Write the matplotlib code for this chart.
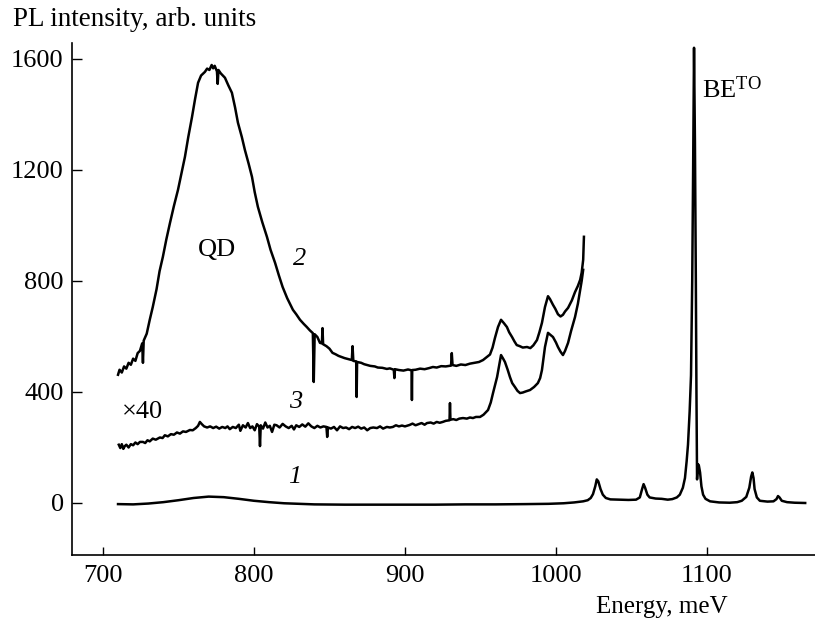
import matplotlib
matplotlib.use("Agg")
import matplotlib.pyplot as plt

plt.rcParams['font.family'] = ['Liberation Serif', 'DejaVu Serif']
plt.rcParams['mathtext.fontset'] = 'custom'
plt.rcParams['mathtext.rm'] = 'Liberation Serif'
plt.rcParams['mathtext.it'] = 'Liberation Serif:italic'

# curve 1: PL spectrum (as measured)
e1 = [710, 720, 730, 740, 750, 760, 770, 780, 790, 800, 810, 820, 830, 840, 860,
      880, 900, 920, 940, 960, 980, 995, 1005, 1012, 1018, 1021, 1023, 1024.5,
      1026, 1027, 1028, 1029.5, 1031, 1033, 1036, 1042, 1048, 1053, 1055.5, 1057,
      1058, 1059, 1060.5, 1062, 1066, 1070, 1074, 1077, 1080, 1082, 1084, 1085.4,
      1086.5, 1087.4, 1088.5, 1089.4, 1090.2, 1090.8, 1091.4, 1092, 1092.6, 1093,
      1093.4, 1094, 1094.6, 1095.4, 1096.3, 1097.4, 1099, 1102, 1108, 1115, 1120,
      1123, 1126, 1128, 1129.2, 1130, 1130.8, 1131.5, 1133, 1135, 1140, 1144, 1146,
      1147, 1148, 1149.5, 1153, 1158, 1165]
i1 = [-4, -5, -2, 3, 10, 18, 23, 21, 15, 8, 3, -1, -3, -5, -6,
      -6, -6, -6, -5, -5, -4, -3, -1, 2, 6, 10, 18, 32,
      60, 85, 78, 50, 30, 18, 13, 12, 11, 12, 20, 50,
      68, 55, 30, 20, 16, 15, 12, 14, 20, 30, 55, 90,
      150, 210, 330, 460, 800, 1200, 1640, 1300, 800, 400,
      85, 140, 135, 110, 60, 30, 15, 6, 2, 1, 3,
      8, 22, 55, 95, 110, 90, 50, 20, 8, 5, 6, 14,
      25, 20, 8, 3, 1, 0]

# curve 2: QD spectrum
e2 = [710, 711, 712.5, 714, 715.5, 717, 718.5, 720, 721.5, 723, 724.5, 726, 726.5,
      727, 729, 731, 733, 735.5, 737.5, 739.7, 742, 744.4, 747, 749.7, 752, 754.3,
      756.5, 759, 761, 763, 765, 767.5, 769, 770.5, 772, 773, 774, 775.5, 776,
      776.5, 778, 780.8, 783, 785.4, 787.5, 789.4, 792, 794, 796.5, 798.7, 800.5,
      802.6, 805.5, 808.6, 811, 814, 816.5, 819, 822, 825.8, 828, 830.5, 833, 835,
      837, 839, 839.6, 840.2, 842, 843.7, 845, 845.4, 845.8, 848, 850, 852, 854,
      856, 858, 860, 862, 864.8, 865.3, 865.8, 867.7, 868, 868.3, 871, 873, 875,
      877, 880, 882, 885, 888, 890, 892.6, 893, 893.4, 896, 899, 902, 904.4, 904.6,
      904.8, 907, 910, 913, 916, 918.5, 921, 924, 927, 930.5, 931, 931.5, 934, 937,
      940, 943, 946, 949, 951.7, 954, 956.3, 958, 959.6, 961.6, 963.6, 965.5,
      967.5, 969, 970.9, 972.5, 974, 976, 978, 980.8, 983, 985, 987.4, 989, 990.7,
      992.7, 994.7, 996, 998, 999.5, 1001.3, 1003, 1004.6, 1006, 1008, 1010.5,
      1012.6, 1014.5, 1016, 1017, 1018, 1018.5]
i2 = [462, 480, 470, 492, 484, 505, 498, 520, 512, 540, 548, 575, 505,
      585, 610, 660, 706, 770, 835, 887, 950, 1009, 1070, 1128, 1188, 1247,
      1318, 1391, 1455, 1514, 1540, 1553, 1565, 1560, 1578, 1566, 1575, 1555, 1510,
      1560, 1548, 1532, 1505, 1478, 1425, 1370, 1318, 1272, 1222, 1175, 1120,
      1067, 1012, 959, 912, 865, 820, 778, 738, 696, 680, 660, 645, 634,
      622, 612, 436, 608, 598, 577, 575, 630, 572, 565, 556, 541, 536,
      530, 526, 522, 519, 515, 565, 512, 510, 382, 508, 505, 500, 497,
      494, 492, 488, 487, 483, 485, 480, 450, 482, 479, 477, 481, 478, 371,
      479, 480, 484, 482, 486, 490, 488, 493, 492, 495, 540, 497, 494, 499,
      497, 502, 505, 508, 515, 525, 535, 560, 595, 634, 660, 648,
      634, 615, 598, 582, 569, 565, 560, 562, 558, 568, 587, 615, 649,
      706, 745, 735, 714, 700, 680, 672, 678, 690, 703, 730,
      760, 782, 804, 830, 876, 959]

# curve 3: x40
e3 = [710.5, 711.5, 712.5, 713.5, 714.5, 715.5, 717, 718.5, 720, 721.5, 723, 724.5,
      726.5, 728, 729.5, 731, 733, 735, 737.7, 739.5, 741, 743, 745, 747, 749, 751,
      753, 755, 757.6, 759.5, 761.5, 763, 764.2, 765.5, 767, 769, 771, 773, 775,
      777, 779, 781, 782.5, 784, 786, 788, 790, 791, 792.7, 794.5, 796, 797.5, 799,
      800.5, 802, 803.5, 804, 804.5, 806, 807.5, 809, 810.5, 812, 813.5, 815, 817,
      819, 821, 823, 825, 826.5, 828, 830, 832, 834, 836, 838, 840, 842, 844, 846,
      848, 848.5, 849, 851, 853, 855, 857, 859, 861, 863, 865, 867, 869, 871, 873,
      875, 877, 879, 881.5, 883.5, 885.5, 888, 890, 892, 894, 896, 898, 900, 903,
      905, 907, 909, 911, 913, 914.6, 917, 919, 921, 923, 925, 927, 929.5, 929.8,
      930.1, 932, 934, 936, 938.4, 941, 943, 945, 947, 949.7, 952, 955, 956.8,
      958.3, 961, 963.6, 965, 966.2, 968, 969.5, 971, 972.8, 974.5, 976.2, 978,
      980, 982.8, 985.5, 988, 989.5, 990.7, 992.7, 994.7, 996.5, 998, 1000, 1001.3,
      1003, 1004.6, 1006, 1008, 1010, 1012.6, 1014.5, 1016, 1017, 1018]
i3 = [210, 198, 212, 195, 205, 210, 200, 212, 208, 218, 212, 220,
      220, 216, 226, 222, 232, 228, 236, 234, 244, 240, 248, 246, 254, 250,
      258, 256, 263, 262, 270, 278, 292, 284, 276, 272, 276, 270, 275,
      268, 274, 270, 276, 266, 274, 270, 282, 260, 280, 272, 288, 270, 276,
      262, 284, 275, 205, 280, 268, 290, 272, 278, 256, 282, 280, 272,
      285, 276, 270, 278, 265, 280, 274, 283, 275, 287, 276, 270, 278, 272, 276,
      274, 238, 272, 268, 274, 262, 276, 270, 272, 266, 274, 270, 275, 268, 272,
      262, 270, 272, 270, 276, 268, 274, 272, 274, 280, 276, 279, 276, 281,
      286, 280, 284, 288, 282, 288, 290, 286, 292, 289, 292, 296, 298, 360,
      300, 302, 299, 304, 306, 304, 308, 306, 310, 310, 318, 335, 362,
      396, 454, 533, 520, 508, 480, 454, 432, 418, 404, 396, 398,
      402, 407, 418, 432, 450, 479, 562, 613, 605, 598, 578, 562,
      545, 533, 548, 577, 620, 670, 718, 768, 800, 840]

xticks = [700, 800, 900, 1000, 1100]
yticks = [0, 400, 800, 1200, 1600]

fig = plt.figure(figsize=(8.15, 6.2), dpi=100)
ax = fig.add_axes([0.0883, 0.105, 0.9117, 0.826])

for e, i in [(e1, i1), (e2, i2), (e3, i3)]:
    ax.plot(e, i, color='black', lw=1.8, solid_joinstyle='round')

ax.set_xlim(679.5, 1171.5)
ax.set_ylim(-187, 1658)
ax.set_xticks(xticks)
ax.set_yticks(yticks)
ax.tick_params(direction='in', labelsize=19, width=1.0, colors='black')
ax.tick_params(axis='x', length=6, pad=7)
ax.tick_params(axis='y', length=7, pad=6)
for s in ['top', 'right']:
    ax.spines[s].set_visible(False)
for s in ['left', 'bottom']:
    ax.spines[s].set_linewidth(1.2)

fs = 19
ax.text(775.5, 912, 'QD', fontsize=fs, ha='center', va='center')
ax.text(830.5, 880, '2', fontsize=fs, style='italic', ha='center', va='center')
ax.text(827.8, 364, '3', fontsize=fs, style='italic', ha='center', va='center')
ax.text(827, 94, '1', fontsize=fs, style='italic', ha='center', va='center')
ax.text(712.6, 328, '\u00d740', fontsize=fs, ha='left', va='center')
ax.text(1096.7, 1460, r'BE$^{\mathrm{TO}}$', fontsize=fs, ha='left', va='baseline')

fig.text(13 / 815, 1 - 19 / 620, 'PL intensity, arb. units', fontsize=19.5,
         ha='left', va='center')
fig.text(728 / 815, 1 - 607 / 620, 'Energy, meV', fontsize=18,
         ha='right', va='center')

fig.savefig('out.png', dpi=100)
